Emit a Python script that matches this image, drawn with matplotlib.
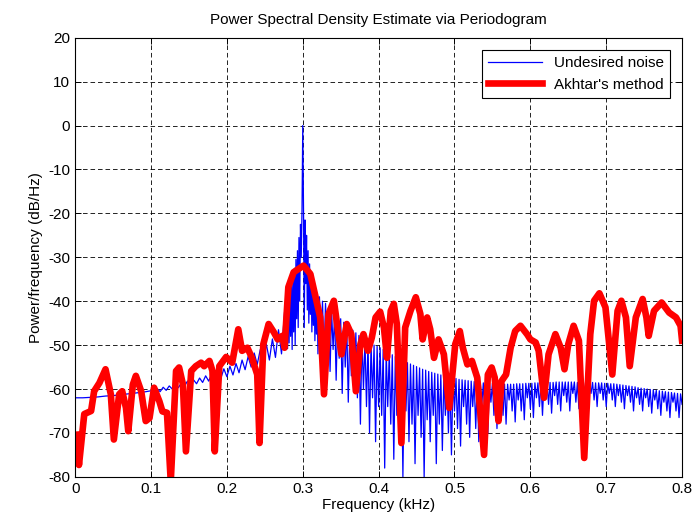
import numpy as np
import matplotlib
matplotlib.use("Agg")
import matplotlib.pyplot as plt

plt.rcParams['font.family'] = ['Liberation Sans', 'DejaVu Sans']
plt.rcParams['axes.unicode_minus'] = False

# --- blue curve: periodogram of the undesired noise (kHz, dB/Hz) ---
noise_db_low = [-62.0, -62.0, -61.9, -61.8, -61.6, -61.5, -61.3, -61.1, -60.9, -60.7, -60.4]

noise_db_rise = [-60.7, -59.9, -60.6, -59.6, -60.3, -59.3, -60.0, -59.0, -59.7, -58.6,
                 -59.4, -58.2, -59.1, -57.9, -58.8, -57.5, -58.5, -57.0, -58.2, -56.6,
                 -57.9, -56.0, -57.6, -55.4, -57.2, -54.8, -56.8, -54.2, -56.3, -53.4,
                 -55.6, -52.6, -55.0, -51.8, -54.4, -51.0, -53.8, -49.8, -53.4, -48.6,
                 -52.8, -46.5, -52.0, -42.5, -50.8]

noise_db_peak = [-38.5, -49.5, -37.0, -48.0, -35.5, -51.0, -34.0, -47.0, -32.5, -50.0,
                 -30.5, -44.0, -28.5, -46.0, -25.5, -40.0, -22.5, -30.0, -19.5, 0.0,
                 -19.0, -46.0, -21.5, -36.0, -25.0, -42.0, -28.5, -45.0, -31.5, -43.0,
                 -34.0, -47.0, -35.5, -45.5, -36.5, -49.0, -37.5, -47.5, -38.5, -52.0]

noise_db_tail = [
    -39.0, -50, -40.0, -53, -40.5, -49, -41.5, -56, -42.0, -51, -42.8, -58, -43.5, -53, -44.0, -61, -44.8, -55, -45.3, -63,
    -46.0, -57, -46.6, -60, -47.2, -62, -47.8, -68, -48.2, -60, -48.8, -64, -49.2, -70, -49.6, -62, -50.0, -72, -50.3, -64,
    -50.6, -66, -51.0, -78, -51.4, -64, -51.8, -68, -52.2, -76, -52.6, -66, -53.0, -70, -53.3, -80, -53.7, -65, -54.0, -72,
    -54.3, -68, -54.6, -77, -54.9, -66, -55.2, -71, -55.5, -80, -55.7, -67, -56.0, -72, -56.2, -66, -56.4, -77, -56.6, -68,
    -56.8, -74, -57.0, -66, -57.2, -70, -57.3, -75, -57.5, -65, -57.6, -69, -57.8, -73, -57.9, -64, -58.0, -68, -58.1, -71,
    -58.2, -64, -58.3, -69, -58.4, -72, -58.5, -63.5, -58.6, -67, -58.6, -70, -58.7, -63, -58.7, -66, -58.8, -69, -58.8, -63,
    -58.8, -66, -58.9, -68, -58.9, -62.5, -58.9, -65, -58.9, -67.5, -58.8, -62.5, -58.8, -65, -58.8, -67, -58.7, -62, -58.7, -64.5,
    -58.7, -66.5, -58.6, -62, -58.6, -64, -58.6, -66, -58.5, -61.5, -58.5, -63.5, -58.5, -65.5, -58.5, -61.5, -58.4, -63.5, -58.4, -65,
    -58.4, -61.5, -58.4, -63, -58.4, -65, -58.4, -61, -58.4, -63, -58.5, -64.5, -58.5, -61, -58.5, -62.5, -58.5, -64.5, -58.5, -61,
    -58.5, -62.5, -58.6, -64, -58.6, -61, -58.6, -62.5, -58.7, -64, -58.7, -61, -58.8, -62.5, -58.8, -64, -58.9, -61.5, -59.0, -63,
    -59.1, -64.5, -59.2, -61.5, -59.3, -63, -59.4, -65, -59.5, -62, -59.7, -63.5, -59.8, -65, -59.9, -62, -60.0, -64, -60.1, -65.5,
    -60.2, -62.5, -60.3, -64.5, -60.4, -66, -60.5, -63, -60.6, -65, -60.7, -66.5, -60.8, -63, -60.9, -65, -61.0, -66.5, -61.1, -63.5,
]

noise_f = np.concatenate([
    np.linspace(0.0, 0.10, len(noise_db_low)),
    np.linspace(0.104, 0.280, len(noise_db_rise)),
    np.linspace(0.281, 0.320, len(noise_db_peak)),
    np.linspace(0.322, 0.800, len(noise_db_tail)),
])
noise_db = np.array(noise_db_low + noise_db_rise + noise_db_peak + noise_db_tail)

# --- red curve: Akhtar's method ---
akhtar_f = [0.002, 0.005, 0.012, 0.021, 0.025, 0.032, 0.040, 0.047, 0.051, 0.058,
            0.062, 0.067, 0.070, 0.076, 0.080, 0.087, 0.093, 0.098, 0.104, 0.111,
            0.115, 0.121, 0.126, 0.133, 0.137, 0.142, 0.146, 0.153, 0.159, 0.166,
            0.170, 0.177, 0.181, 0.184, 0.190, 0.199, 0.207, 0.215, 0.220, 0.227,
            0.233, 0.240, 0.243, 0.248, 0.255, 0.262, 0.267, 0.273, 0.276, 0.281,
            0.288, 0.301, 0.310, 0.317, 0.323, 0.328, 0.334, 0.341, 0.347, 0.351,
            0.358, 0.364, 0.370, 0.376, 0.380, 0.386, 0.391, 0.396, 0.402, 0.407,
            0.411, 0.416, 0.420, 0.424, 0.430, 0.435, 0.442, 0.449, 0.455, 0.458,
            0.464, 0.468, 0.473, 0.479, 0.486, 0.493, 0.501, 0.507, 0.511, 0.517,
            0.523, 0.530, 0.539, 0.544, 0.549, 0.553, 0.558, 0.562, 0.568, 0.574,
            0.580, 0.587, 0.596, 0.600, 0.607, 0.611, 0.618, 0.624, 0.633, 0.640,
            0.645, 0.650, 0.657, 0.664, 0.671, 0.679, 0.684, 0.691, 0.699, 0.708,
            0.715, 0.720, 0.726, 0.731, 0.739, 0.748, 0.753, 0.756, 0.763, 0.773,
            0.783, 0.792, 0.798, 0.800]
akhtar_db = [-70.4, -77.3, -65.7, -65.0, -60.5, -58.6, -55.5, -61.2, -71.5, -61.2,
             -60.5, -64.3, -69.6, -59.0, -57.0, -60.5, -67.3, -66.6, -59.7, -62.8,
             -65.1, -65.4, -81.0, -55.9, -55.1, -58.9, -74.2, -55.9, -54.8, -54.0,
             -54.8, -53.6, -55.9, -74.2, -54.8, -52.7, -54.0, -46.4, -51.3, -50.6,
             -52.9, -56.7, -72.3, -49.8, -45.2, -47.1, -48.7, -47.9, -50.6, -36.8,
             -33.4, -31.9, -33.8, -39.1, -43.7, -61.2, -42.9, -39.9, -47.5, -52.1,
             -45.2, -47.5, -60.5, -49.8, -47.5, -51.3, -48.3, -43.7, -42.4, -46.0,
             -52.9, -42.2, -40.6, -45.2, -72.3, -46.0, -42.2, -39.1, -42.9, -48.7,
             -43.7, -46.4, -52.9, -48.7, -52.1, -64.3, -49.8, -46.8, -50.6, -54.4,
             -53.6, -57.4, -75.0, -56.7, -55.1, -57.4, -67.3, -58.2, -56.7, -50.6,
             -46.8, -45.6, -47.6, -48.7, -49.4, -51.3, -62.0, -52.1, -47.5, -50.6,
             -55.5, -49.8, -45.6, -49.0, -75.7, -47.5, -39.9, -38.2, -41.4, -56.7,
             -42.2, -39.9, -43.7, -54.8, -43.7, -39.5, -43.7, -47.9, -42.2, -40.3,
             -42.6, -43.7, -45.6, -49.0]

fig = plt.figure(figsize=(6.96, 5.24), dpi=100)
ax = fig.add_axes([0.108, 0.090, 0.872, 0.838])

ax.plot(noise_f, noise_db, color='blue', lw=0.9, label='Undesired noise')
ax.plot(akhtar_f, akhtar_db, color='red', lw=4.8, solid_joinstyle='round',
        label="Akhtar's method")

ax.set_xlim(0, 0.8)
ax.set_ylim(-80, 20)
ax.set_xticks(np.arange(0, 0.81, 0.1))
ax.set_xticklabels(['0', '0.1', '0.2', '0.3', '0.4', '0.5', '0.6', '0.7', '0.8'])
ax.set_yticks(np.arange(-80, 21, 10))

ax.grid(True, color='black', linestyle=(0, (5.5, 3.5)), linewidth=0.6)
ax.tick_params(direction='in', top=True, right=True, labelsize=11, length=4, width=0.7)
for s in ax.spines.values():
    s.set_linewidth(0.8)

ax.set_title('Power Spectral Density Estimate via Periodogram', fontsize=11, pad=10)
ax.set_xlabel('Frequency (kHz)', fontsize=11, labelpad=2)
ax.set_ylabel('Power/frequency (dB/Hz)', fontsize=11, labelpad=4)

leg = ax.legend(loc='upper right', fontsize=11, fancybox=False, framealpha=1,
                edgecolor='black', borderaxespad=0.8, handlelength=3.5)
leg.get_frame().set_linewidth(0.8)

fig.savefig('out.png', dpi=100)
